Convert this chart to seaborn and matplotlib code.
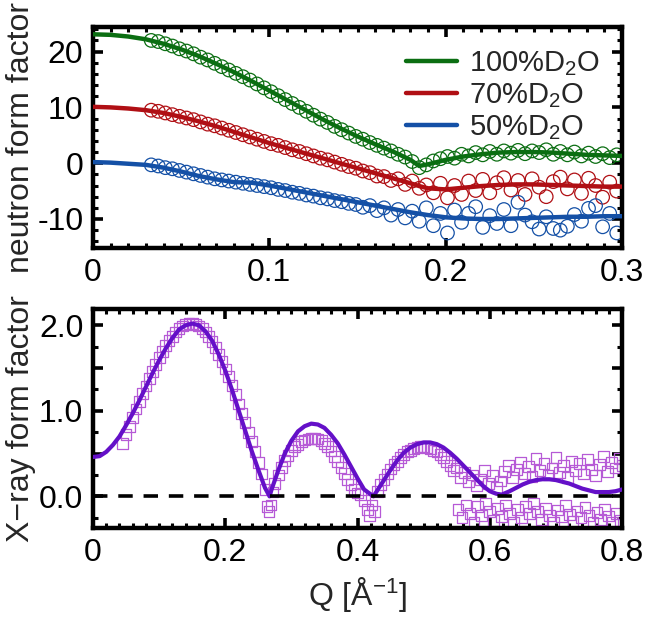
import numpy as np
import pandas as pd
import matplotlib
matplotlib.use("Agg")
import matplotlib.pyplot as plt
import seaborn as sns
from matplotlib.ticker import MultipleLocator, FuncFormatter

# ---------------- neutron fits ----------------
q_fit_n = [0.00, 0.01, 0.02, 0.03, 0.04, 0.05, 0.06, 0.07, 0.08, 0.09, 0.10,
           0.11, 0.12, 0.13, 0.14, 0.15, 0.16, 0.17, 0.18, 0.185, 0.19, 0.20,
           0.21, 0.22, 0.23, 0.24, 0.25, 0.26, 0.27, 0.28, 0.29, 0.30]
fit_100 = [23.1, 23.0, 22.7, 22.2, 21.4, 20.4, 19.2, 17.8, 16.3, 14.7, 13.0,
           11.3, 9.6, 7.9, 6.3, 4.8, 3.4, 2.1, 0.6, -0.5, -0.2, 0.6,
           1.2, 1.6, 1.9, 2.0, 2.0, 1.9, 1.7, 1.5, 1.4, 1.3]
fit_70 = [10.1, 10.0, 9.8, 9.5, 9.0, 8.3, 7.5, 6.6, 5.6, 4.6, 3.6,
          2.7, 1.8, 0.9, 0.0, -0.9, -1.8, -2.7, -3.6, -4.1, -4.5, -4.7,
          -4.4, -4.1, -3.9, -3.8, -3.8, -3.9, -4.0, -4.1, -4.2, -4.2]
fit_50 = [0.2, 0.1, -0.1, -0.3, -0.8, -1.5, -2.3, -2.9, -3.4, -3.5, -4.0,
          -4.6, -5.2, -5.8, -6.4, -7.0, -7.6, -8.2, -8.8, -9.05, -9.3, -9.7,
          -9.9, -10.0, -10.0, -9.9, -9.8, -9.7, -9.6, -9.6, -9.5, -9.5]

# ---------------- neutron data ----------------
q_dat_n = [0.033, 0.037, 0.041, 0.045, 0.049, 0.053, 0.057, 0.061, 0.065, 0.069,
           0.073, 0.077, 0.081, 0.085, 0.089, 0.093, 0.097, 0.101, 0.105, 0.109,
           0.113, 0.117, 0.121, 0.125, 0.129, 0.133, 0.137, 0.141, 0.145, 0.149,
           0.153, 0.157, 0.161, 0.165, 0.169, 0.173, 0.177, 0.181, 0.185, 0.189,
           0.193, 0.197, 0.201, 0.205, 0.209, 0.213, 0.217, 0.221, 0.225, 0.229,
           0.233, 0.237, 0.241, 0.245, 0.249, 0.253, 0.257, 0.261, 0.265, 0.269,
           0.273, 0.277, 0.281, 0.285, 0.289, 0.293, 0.297]
dat_100 = [22.0, 21.8, 21.4, 21.0, 20.5, 20.1, 19.6, 19.0, 18.5, 17.9,
           17.3, 16.7, 16.1, 15.5, 14.9, 14.2, 13.5, 12.8, 12.1, 11.4,
           10.7, 10.0, 9.3, 8.6, 7.9, 7.3, 6.6, 6.0, 5.4, 4.8,
           4.3, 3.7, 3.2, 2.7, 2.2, 1.6, 1.1, 0.3, -0.8, -0.3,
           0.4, 0.8, 1.2, 0.9, 1.6, 1.3, 1.9, 1.5, 2.1, 1.6,
           2.2, 1.8, 2.3, 1.7, 2.2, 1.9, 2.4, 1.6, 2.1, 1.5,
           2.0, 1.3, 1.8, 1.2, 1.7, 1.0, 1.5]
dat_70 = [9.5, 9.3, 9.0, 8.7, 8.4, 8.1, 7.8, 7.4, 7.0, 6.7,
          6.3, 5.9, 5.5, 5.1, 4.7, 4.3, 3.9, 3.5, 3.2, 2.8,
          2.4, 2.1, 1.7, 1.3, 0.9, 0.6, 0.2, -0.2, -0.6, -0.9,
          -1.4, -1.7, -2.3, -2.4, -3.1, -2.8, -3.8, -3.2, -4.5, -3.9,
          -5.3, -3.6, -6.2, -4.0, -5.6, -3.2, -4.9, -2.9, -5.3, -3.5,
          -2.6, -4.8, -3.1, -5.6, -2.8, -4.3, -6.0, -3.3, -2.5, -4.6,
          -3.0, -5.4, -2.7, -4.0, -6.1, -3.4, -5.0]
dat_50 = [-0.3, -0.5, -0.8, -1.0, -1.3, -1.6, -1.9, -2.2, -2.5, -2.8,
          -3.0, -3.2, -3.4, -3.6, -3.8, -4.0, -4.2, -4.4, -4.7, -4.9,
          -5.2, -5.4, -5.7, -5.9, -6.2, -6.4, -6.7, -6.9, -7.2, -7.4,
          -7.9, -7.6, -8.5, -8.0, -9.3, -8.3, -9.8, -8.6, -10.4, -8.0,
          -11.2, -9.0, -12.5, -8.4, -10.6, -9.0, -7.8, -11.5, -9.4, -10.8,
          -8.3, -11.2, -7.0, -9.3, -10.5, -11.8, -9.6, -11.7, -12.0, -11.3,
          -9.2, -10.4, -8.1, -7.6, -11.4, -9.0, -12.5]

# ---------------- X-ray fit ----------------
q_fit_x = [0.00, 0.01, 0.02, 0.03, 0.04, 0.05, 0.06, 0.07, 0.08, 0.09,
           0.10, 0.11, 0.12, 0.13, 0.14, 0.15, 0.16, 0.17, 0.18, 0.19,
           0.20, 0.21, 0.22, 0.23, 0.24, 0.25, 0.26, 0.267, 0.27, 0.28,
           0.29, 0.30, 0.31, 0.32, 0.33, 0.34, 0.35, 0.36, 0.37, 0.38,
           0.39, 0.40, 0.41, 0.424, 0.43, 0.44, 0.45, 0.46, 0.47, 0.48,
           0.49, 0.50, 0.51, 0.52, 0.53, 0.54, 0.55, 0.56, 0.57, 0.58,
           0.59, 0.60, 0.61, 0.618, 0.63, 0.64, 0.65, 0.66, 0.67, 0.68,
           0.69, 0.70, 0.71, 0.72, 0.73, 0.74, 0.75, 0.76, 0.77, 0.78,
           0.79, 0.80]
fit_x = [0.46, 0.47, 0.52, 0.60, 0.70, 0.83, 0.97, 1.12, 1.28, 1.44,
         1.59, 1.73, 1.85, 1.95, 2.00, 2.02, 2.00, 1.93, 1.82, 1.66,
         1.47, 1.25, 1.01, 0.77, 0.53, 0.31, 0.10, 0.00, 0.08, 0.30,
         0.50, 0.65, 0.76, 0.82, 0.85, 0.84, 0.80, 0.72, 0.62, 0.49,
         0.35, 0.21, 0.08, 0.00, 0.07, 0.19, 0.31, 0.42, 0.51, 0.57,
         0.61, 0.63, 0.63, 0.61, 0.57, 0.51, 0.44, 0.36, 0.28, 0.20,
         0.12, 0.06, 0.03, 0.02, 0.06, 0.10, 0.14, 0.17, 0.19, 0.20,
         0.20, 0.19, 0.17, 0.15, 0.12, 0.09, 0.07, 0.05, 0.05, 0.05,
         0.06, 0.08]

# ---------------- X-ray data ----------------
q_dat_x = [0.045, 0.050, 0.055, 0.060, 0.065, 0.070, 0.075, 0.080, 0.085, 0.090,
           0.095, 0.100, 0.105, 0.110, 0.115, 0.120, 0.125, 0.130, 0.135, 0.140,
           0.145, 0.150, 0.155, 0.160, 0.165, 0.170, 0.175, 0.180, 0.185, 0.190,
           0.195, 0.200, 0.205, 0.210, 0.215, 0.220, 0.225, 0.230, 0.235, 0.240,
           0.245, 0.250, 0.255, 0.260, 0.263, 0.266, 0.269, 0.272, 0.275, 0.280,
           0.285, 0.290, 0.295, 0.300, 0.305, 0.310, 0.315, 0.320, 0.325, 0.330,
           0.335, 0.340, 0.345, 0.350, 0.355, 0.360, 0.365, 0.370, 0.375, 0.380,
           0.385, 0.390, 0.395, 0.400, 0.405, 0.410, 0.415, 0.418, 0.422, 0.426,
           0.430, 0.435, 0.440, 0.445, 0.450, 0.455, 0.460, 0.465, 0.470, 0.475,
           0.480, 0.485, 0.490, 0.495, 0.500, 0.505, 0.510, 0.515, 0.520, 0.525,
           0.530, 0.535, 0.540, 0.545,
           0.550, 0.556, 0.562, 0.568, 0.574, 0.580, 0.586, 0.592, 0.598, 0.604,
           0.610, 0.616, 0.622, 0.628, 0.634, 0.640, 0.646, 0.652, 0.658, 0.664,
           0.670, 0.676, 0.682, 0.688, 0.694, 0.700, 0.706, 0.712, 0.718, 0.724,
           0.730, 0.736, 0.742, 0.748, 0.754, 0.760, 0.766, 0.772, 0.778, 0.784,
           0.790, 0.796, 0.800,
           0.552, 0.558, 0.564, 0.570, 0.576, 0.582, 0.588, 0.594, 0.600, 0.606,
           0.612, 0.618, 0.624, 0.630, 0.636, 0.642, 0.648, 0.654, 0.660, 0.666,
           0.672, 0.678, 0.684, 0.690, 0.696, 0.702, 0.708, 0.714, 0.720, 0.726,
           0.732, 0.738, 0.744, 0.750, 0.756, 0.762, 0.768, 0.774, 0.780, 0.786,
           0.792, 0.798]
dat_x = [0.62, 0.72, 0.82, 0.92, 1.02, 1.11, 1.20, 1.29, 1.38, 1.46,
         1.54, 1.62, 1.69, 1.76, 1.82, 1.87, 1.92, 1.96, 1.99, 2.01,
         2.02, 2.02, 2.01, 1.99, 1.96, 1.92, 1.87, 1.81, 1.74, 1.66,
         1.58, 1.49, 1.40, 1.30, 1.19, 1.08, 0.97, 0.86, 0.75, 0.64,
         0.52, 0.40, 0.26, 0.08, -0.12, -0.18, -0.10, 0.05, 0.15, 0.25,
         0.34, 0.42, 0.48, 0.54, 0.58, 0.61, 0.64, 0.66, 0.67, 0.68,
         0.68, 0.67, 0.65, 0.62, 0.58, 0.53, 0.47, 0.41, 0.34, 0.27,
         0.20, 0.14, 0.08, 0.04, 0.02, -0.05, -0.15, -0.22, -0.10, -0.18,
         0.06, 0.14, 0.20, 0.26, 0.32, 0.37, 0.41, 0.45, 0.49, 0.52,
         0.54, 0.56, 0.57, 0.58, 0.58, 0.57, 0.56, 0.54, 0.52, 0.49,
         0.45, 0.41, 0.36, 0.30,
         0.33, 0.22, 0.28, 0.17, 0.25, 0.12, 0.20, 0.30, 0.15, 0.24,
         0.10, 0.18, 0.29, 0.36, 0.22, 0.31, 0.40, 0.27, 0.35, 0.23,
         0.44, 0.30, 0.38, 0.25, 0.33, 0.45, 0.28, 0.36, 0.22, 0.41,
         0.30, 0.38, 0.26, 0.43, 0.31, 0.24, 0.37, 0.47, 0.29, 0.40,
         0.33, 0.44, 0.36,
         -0.15, -0.25, -0.10, -0.20, -0.30, -0.12, -0.22, -0.08, -0.18, -0.28,
         -0.14, -0.24, -0.10, -0.20, -0.30, -0.15, -0.25, -0.12, -0.20, -0.08,
         -0.18, -0.27, -0.14, -0.22, -0.30, -0.16, -0.24, -0.11, -0.21, -0.29,
         -0.17, -0.25, -0.13, -0.22, -0.30, -0.19, -0.27, -0.15, -0.23, -0.31,
         -0.20, -0.28]

series_labels = ["100%D$_2$O", "70%D$_2$O", "50%D$_2$O"]
series_colors = ["#0b6e12", "#b00f14", "#1450a6"]
xray_line_color = "#6410c8"
xray_marker_color = "#b65ad6"

# ---------------- style ----------------
sns.set_style("ticks")
plt.rcParams["font.family"] = ["Liberation Sans", "DejaVu Sans"]
plt.rcParams["axes.unicode_minus"] = False
plt.rcParams["mathtext.default"] = "regular"

FS = 23

fig = plt.figure(figsize=(6.51, 6.23), dpi=100)
ax1 = fig.add_axes([0.1429, 0.6019, 0.8126, 0.3547])
ax2 = fig.add_axes([0.1429, 0.1525, 0.8126, 0.3515])


def style_axes(ax):
    for s in ax.spines.values():
        s.set_linewidth(3.2)
        s.set_color("black")
    ax.tick_params(which="both", direction="in", top=True, right=True,
                   colors="black", labelsize=FS, pad=7)
    ax.tick_params(which="major", length=7, width=2.6)
    ax.tick_params(which="minor", length=3.5, width=2.2)


def fmt_num(v, pos):
    if abs(v) < 1e-9:
        return "0"
    return "%g" % v


# ---- top panel ----
fits = [fit_100, fit_70, fit_50]
dats = [dat_100, dat_70, dat_50]
for lab, col, f, d in zip(series_labels, series_colors, fits, dats):
    sns.scatterplot(x=q_dat_n, y=d, ax=ax1, marker="o", s=95,
                    facecolors="none", edgecolor=col, linewidth=0.9,
                    legend=False, zorder=2)
for lab, col, f in zip(series_labels, series_colors, fits):
    sns.lineplot(x=q_fit_n, y=f, ax=ax1, color=col, linewidth=3.2,
                 label=lab, zorder=3)

ax1.set_xlim(0, 0.3)
ax1.set_ylim(-15.2, 24.4)
ax1.xaxis.set_major_locator(MultipleLocator(0.1))
ax1.xaxis.set_minor_locator(MultipleLocator(0.01))
ax1.yaxis.set_major_locator(MultipleLocator(10))
ax1.yaxis.set_minor_locator(MultipleLocator(2))
ax1.xaxis.set_major_formatter(FuncFormatter(fmt_num))
ax1.yaxis.set_major_formatter(FuncFormatter(fmt_num))
ax1.set_ylabel("neutron form factor", fontsize=FS)
ax1.yaxis.set_label_coords(-0.108, 0.5)
ax1.set_xlabel("")
style_axes(ax1)
leg = ax1.legend(loc="upper right", frameon=False, fontsize=21,
                 handlelength=1.75, handletextpad=0.4, labelspacing=0.12,
                 borderaxespad=0.35)
for h in leg.get_lines():
    h.set_linewidth(3.2)

# ---- bottom panel ----
sns.scatterplot(x=q_dat_x, y=dat_x, ax=ax2, marker="s", s=60,
                facecolors="none", edgecolor=xray_marker_color, linewidth=0.9,
                legend=False, zorder=2)
sns.lineplot(x=q_fit_x, y=fit_x, ax=ax2, color=xray_line_color, linewidth=3.0,
             zorder=3)
ax2.axhline(0, color="black", linewidth=2.6, dashes=(4, 3), zorder=4)

ax2.set_xlim(0, 0.8)
ax2.set_ylim(-0.37, 2.19)
ax2.xaxis.set_major_locator(MultipleLocator(0.2))
ax2.xaxis.set_minor_locator(MultipleLocator(0.02))
ax2.yaxis.set_major_locator(MultipleLocator(0.5))
ax2.yaxis.set_minor_locator(MultipleLocator(0.25))
ax2.xaxis.set_major_formatter(FuncFormatter(fmt_num))
ax2.yaxis.set_major_formatter(
    FuncFormatter(lambda v, p: ("%.1f" % v) if abs(v - round(v)) < 1e-9 else ""))
ax2.set_ylabel("X\u2212ray form factor", fontsize=FS)
ax2.yaxis.set_label_coords(-0.108, 0.5)
ax2.set_xlabel("Q [\u00c5$^{-1}$]", fontsize=FS, labelpad=5)
style_axes(ax2)

fig.savefig("out.png", dpi=100)
